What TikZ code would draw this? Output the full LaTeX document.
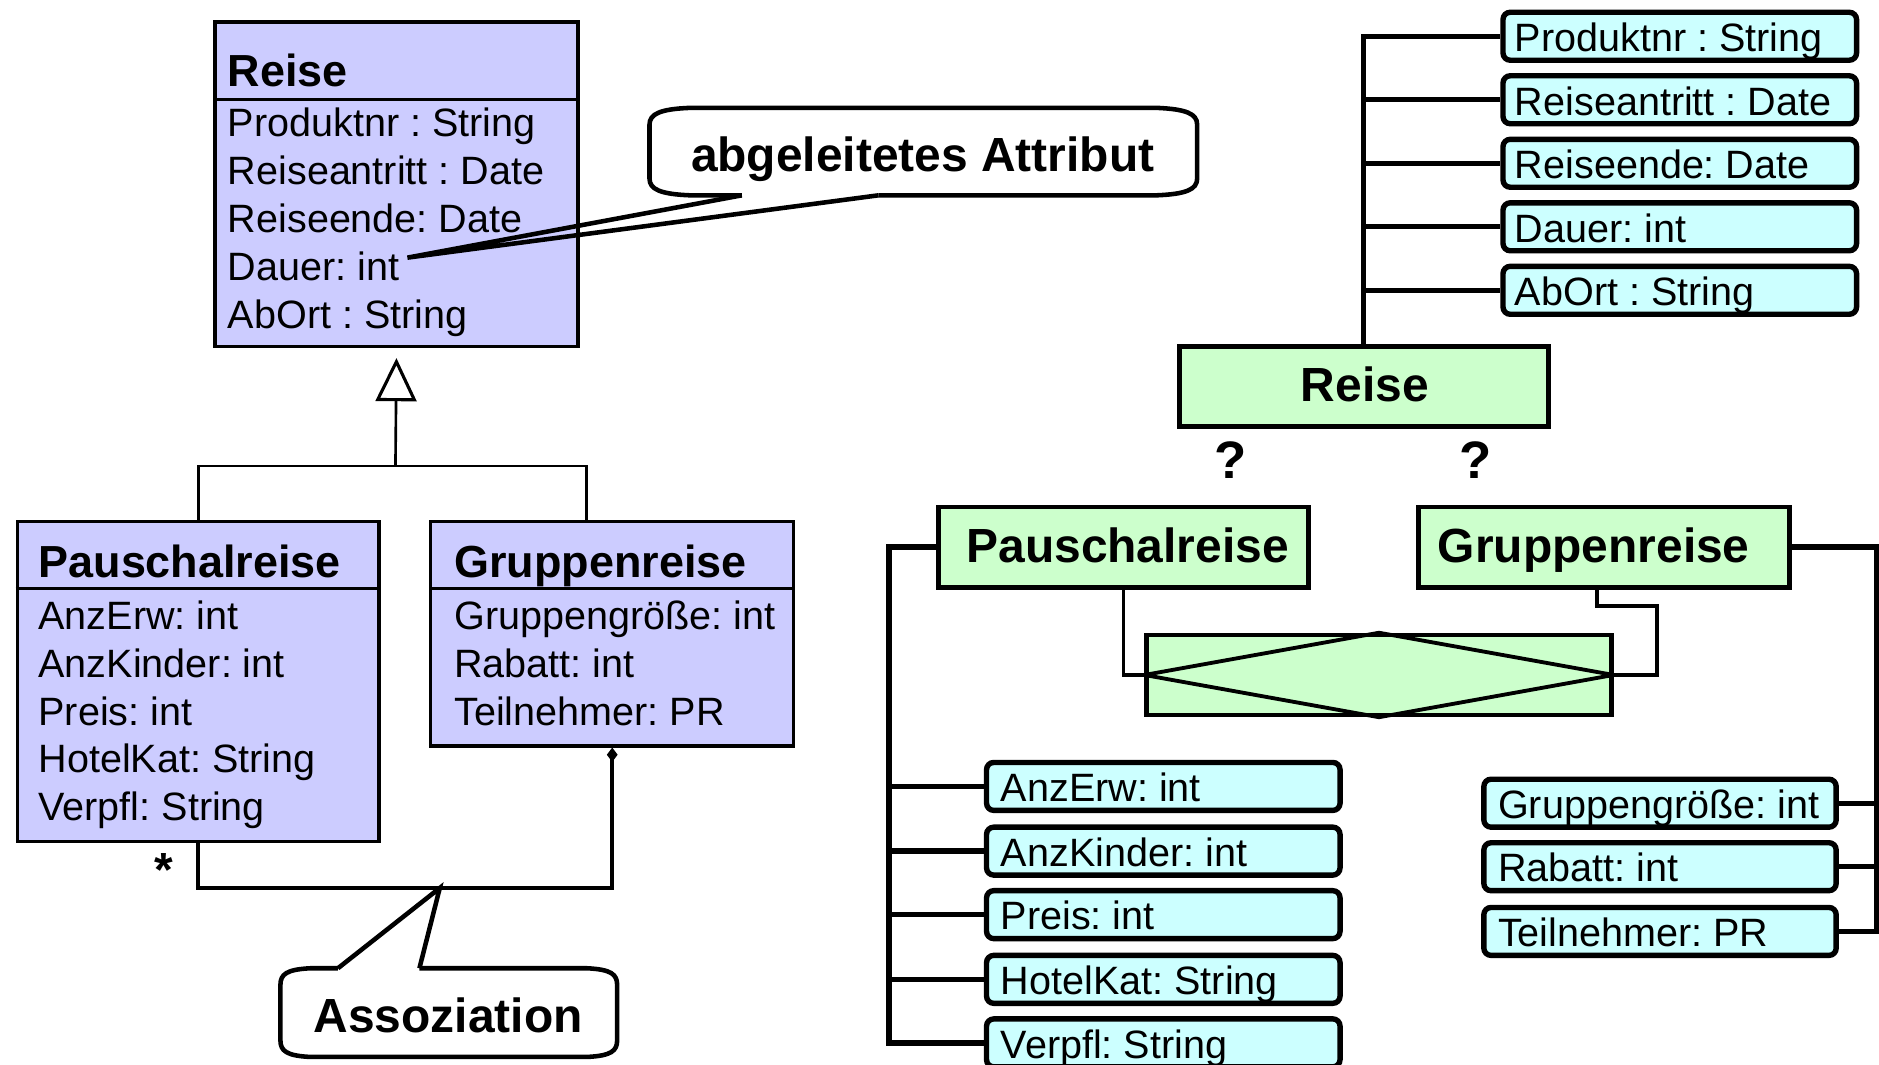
\documentclass[tikz,border=0pt]{standalone}
\usepackage{fontspec}
\setmainfont{Liberation Sans}
\usetikzlibrary{arrows.meta}
\frenchspacing

\definecolor{umlfill}{RGB}{204,204,255}
\definecolor{entfill}{RGB}{204,255,204}
\definecolor{attfill}{RGB}{204,255,255}

\begin{document}
\begin{tikzpicture}[x=1pt,y=-1pt,
  attr/.style={font=\fontsize{33}{36}\selectfont, anchor=base west, inner sep=0pt},
  ctitle/.style={font=\fontsize{37.5}{40}\selectfont\bfseries, anchor=base west, inner sep=0pt},
  btitle/.style={font=\fontsize{40}{44}\selectfont\bfseries, anchor=base, inner sep=0pt},
  qmark/.style={font=\fontsize{44}{48}\selectfont\bfseries, anchor=base, inner sep=0pt},
  classbox/.style={draw, line width=2.8pt, fill=umlfill, anchor=north west, inner sep=0pt},
  entbox/.style={draw, line width=4pt, fill=entfill, anchor=north west, inner sep=0pt,
    minimum width=309pt, minimum height=67pt},
  attbox/.style={draw, line width=4.5pt, fill=attfill, rounded corners=6pt,
    anchor=north west, inner sep=0pt, minimum height=40pt},
  divider/.style={line width=2.8pt},
  genline/.style={line width=2.2pt},
  assocline/.style={line width=3.5pt},
  spine/.style={line width=4.5pt},
  relline/.style={line width=3.2pt},
  callout/.style={line width=3.8pt}
]
\fill[white] (0,0) rectangle (1568,888);
\useasboundingbox (0,0) rectangle (1568,888);

% ---------- UML class diagram ----------
\node[classbox, minimum width=303pt, minimum height=271pt] (reise) at (178,17) {};
\draw[divider] ([yshift=-66pt]reise.north west) -- ([yshift=-66pt]reise.north east);
\node[ctitle] (reiseT) at (190,72) {Reise};
\node[attr] (rA1) at (190,114) {Produktnr : String};
\node[attr] (rA2) at (190,154) {Reiseantritt : Date};
\node[attr] (rA3) at (190,194) {Reiseende: Date};
\node[attr] (rA4) at (190,234) {Dauer: int};
\node[attr] (rA5) at (190,274) {AbOrt : String};

\node[classbox, minimum width=302pt, minimum height=267pt] (pauschal) at (13,434) {};
\draw[divider] ([yshift=-57pt]pauschal.north west) -- ([yshift=-57pt]pauschal.north east);
\node[ctitle] (pauschalT) at (32,482) {Pauschalreise};
\node[attr] (pA1) at (32,525) {AnzErw: int};
\node[attr] (pA2) at (32,565) {AnzKinder: int};
\node[attr] (pA3) at (32,605) {Preis: int};
\node[attr] (pA4) at (32,645) {HotelKat: String};
\node[attr] (pA5) at (32,685) {Verpfl: String};

\node[classbox, minimum width=303pt, minimum height=187pt] (gruppen) at (358,434) {};
\draw[divider] ([yshift=-57pt]gruppen.north west) -- ([yshift=-57pt]gruppen.north east);
\node[ctitle] (gruppenT) at (379,482) {Gruppenreise};
\node[attr] (gA1) at (379,525) {Gruppengröße: int};
\node[attr] (gA2) at (379,565) {Rabatt: int};
\node[attr] (gA3) at (379,605) {Teilnehmer: PR};

% generalisation
\coordinate (gj) at (330,389);
\draw[genline] (pauschal.north) |- (gj) -| ([xshift=-21.5pt]gruppen.north);
\draw[genline, -{Triangle[open, length=36pt, width=34pt, line width=2.6pt]}, shorten >=8pt]
  (gj) -- (reise.south);

% association
\coordinate (asc) at (367,741);
\draw[assocline, -{Diamond[length=12pt, width=9pt]}] (pauschal.south) |- (asc) -| (gruppen.south);
\node[font=\fontsize{40}{44}\selectfont\bfseries, anchor=base, inner sep=0pt] (mult) at (137,740) {*};

% callout: Assoziation
\draw[callout] (350,808) -- (490,808) .. controls (510,809) and (515,813) .. (515,822)
  -- (515,868) .. controls (515,877) and (510,881) .. (490,882)
  -- (259,882) .. controls (239,881) and (234,877) .. (234,868)
  -- (234,822) .. controls (234,813) and (239,809) .. (259,808) -- (282,808);
\draw[callout, line join=miter] (282,808) -- (asc) -- (350,808);
\node[btitle] (assoT) at (374,862) {Assoziation};

% callout: abgeleitetes Attribut
\coordinate (dtip) at (340,215);
\draw[callout] (733,163) -- (965,163) .. controls (990,162) and (999,158) .. (999,149)
  -- (999,104) .. controls (999,95) and (990,91) .. (965,90)
  -- (576,90) .. controls (551,91) and (542,95) .. (542,104)
  -- (542,149) .. controls (542,158) and (551,162) .. (576,163) -- (619,163);
\draw[callout, line join=miter] (619,163) -- (dtip) -- (733,163);
\node[btitle] (abgT) at (770,143) {abgeleitetes Attribut};

% ---------- ER diagram ----------
\node[entbox, minimum width=308pt] (rG) at (982,287) {};
\node[btitle] (rGT) at (1139,335) {Reise};
\node[qmark] (q1) at (1027,399) {?};
\node[qmark] (q2) at (1231,399) {?};

\node[entbox] (pG) at (781,421) {};
\node[btitle] (pGT) at (941,469) {Pauschalreise};
\node[entbox] (gG) at (1182,421) {};
\node[btitle] (gGT) at (1330,469) {Gruppenreise};

% relationship
\node[draw, line width=3.5pt, fill=entfill, anchor=north west, inner sep=0pt,
  minimum width=388pt, minimum height=67pt] (rel) at (955,528) {};
\draw[relline, line join=miter] (rel.west) -- (rel.north) -- (rel.east) -- (rel.south) -- cycle;
\draw[relline] (pG.south) |- (rel.west);
\coordinate (gb) at (1383,506);
\draw[relline] ([xshift=-5.5pt]gG.south) |- (gb) |- (rel.east);

% attributes of Reise
\foreach \i/\t/\s in {1/8/Produktnr : String, 2/61/Reiseantritt : Date, 3/114/Reiseende: Date,
                      4/167/Dauer: int, 5/220/AbOrt : String}{
  \node[attbox, minimum width=295pt] (a\i) at (1252,\t) {};
  \node[attr] (a\i T) at (1264,\t+35) {\s};
}
\draw[spine] (rG.north) -- (rG.north |- a1.west) -- (a1.west);
\foreach \i in {2,...,5}{
  \draw[spine] (rG.north |- a\i.west) -- (a\i.west);
}

% attributes of Pauschalreise
\foreach \i/\t/\s in {1/634/AnzErw: int, 2/688/AnzKinder: int, 3/741/Preis: int,
                      4/795/HotelKat: String, 5/848/Verpfl: String}{
  \node[attbox, minimum width=295pt] (p\i) at (821,\t) {};
  \node[attr] (p\i T) at (835,\t+35) {\s};
}
\draw[spine] (pG.west) -- ++(-39,0) coordinate (ls) |- (p5.west);
\foreach \i in {1,...,4}{
  \draw[spine] (ls |- p\i.west) -- (p\i.west);
}

% attributes of Gruppenreise
\foreach \i/\t/\s in {1/648/Gruppengröße: int, 2/701/Rabatt: int, 3/755/Teilnehmer: PR}{
  \node[attbox, minimum width=294pt] (g\i) at (1236,\t) {};
  \node[attr] (g\i T) at (1250,\t+35) {\s};
}
\draw[spine] (gG.east) -- ++(71,0) coordinate (rs) |- (g3.east);
\foreach \i in {1,2}{
  \draw[spine] (rs |- g\i.east) -- (g\i.east);
}
\end{tikzpicture}
\end{document}
